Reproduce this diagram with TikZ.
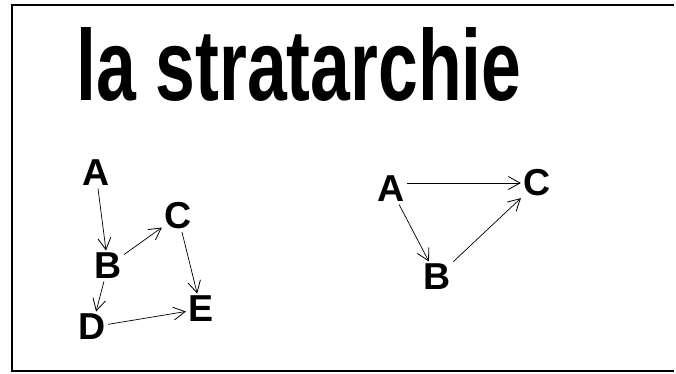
\documentclass[tikz,border=0pt]{standalone}
\usepackage{fontspec}
\setmainfont{Liberation Sans}
\usetikzlibrary{arrows.meta}

\begin{document}
\begin{tikzpicture}[x=0.03cm,y=-0.03cm,
  vertex/.style={font=\fontsize{32}{32}\selectfont\bfseries,inner sep=2pt},
  link/.style={line width=0.6pt,-{Straight Barb[length=10pt,width=11pt,line width=0.7pt]}}]
\useasboundingbox (0,0) rectangle (676,374);
% frame
\draw[line width=1.3pt] (674,5) -- (12,5) -- (12,371) -- (674,371);
% title
\node[anchor=base west,inner sep=0pt,xscale=0.71,font=\fontsize{86}{86}\selectfont\bfseries] (title) at (76,101) {la stratarchie};
% left graph
\node[vertex] (a1) at (96,173) {A};
\node[vertex] (b1) at (108,266) {B};
\node[vertex] (c1) at (178,216) {C};
\node[vertex] (d1) at (92,327) {D};
\node[vertex] (e1) at (201,309) {E};
\draw[link] (a1) -- (b1);
\draw[link] (b1) -- (c1);
\draw[link] (c1) -- (e1);
\draw[link] (b1) -- (d1);
\draw[link] (d1) -- (e1);
% right graph
\node[vertex] (a2) at (391,189) {A};
\node[vertex] (b2) at (437,277) {B};
\node[vertex] (c2) at (537,183) {C};
\draw[link] (a2.east |- c2) -- (c2);
\draw[link] (a2) -- (b2);
\draw[link] (b2) -- (c2);
\end{tikzpicture}
\end{document}
